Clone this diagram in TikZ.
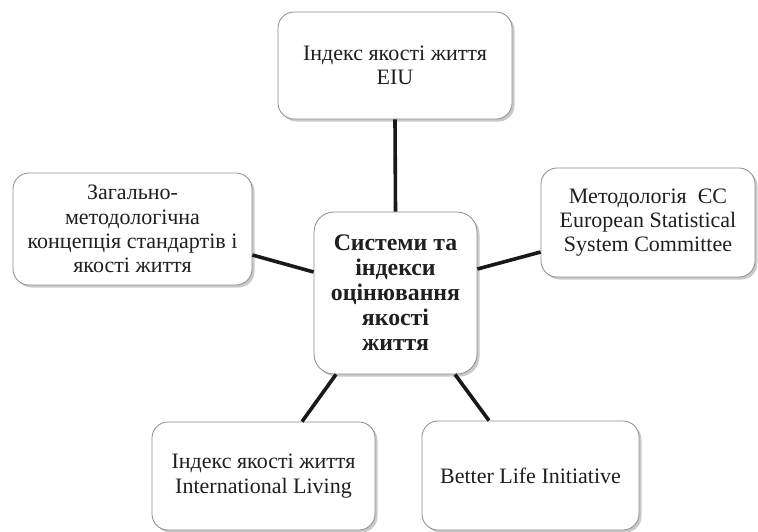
\documentclass[tikz,border=0pt]{standalone}
\usepackage{fontspec}
\setmainfont{Liberation Serif}
\usetikzlibrary{shadows,calc}
\tikzset{
  box/.style={draw=black!45, line width=0.8pt, fill=white, rounded corners=16pt,
    align=center, text=black!88, font=\fontsize{22}{24.3}\selectfont, inner sep=2pt,
    drop shadow={shadow xshift=2.5pt, shadow yshift=-2.5pt, opacity=0.35, fill=black!60}},
  hub/.style={box, rounded corners=20pt, font=\bfseries\fontsize{23.8}{25}\selectfont},
  link/.style={line width=3.6pt, black!90}
}
\begin{document}
\begin{tikzpicture}[x=1pt,y=-1pt]
\useasboundingbox (0,0) rectangle (758,531);
\node[box, minimum width=234pt, minimum height=107pt] (t) at (395,65.5)
  {Індекс якості життя\\EIU};
\node[box, minimum width=239pt, minimum height=112pt] (l) at (132.5,229)
  {Загально-\\методологічна\\концепція стандартів і\\якості життя};
\node[box, minimum width=214pt, minimum height=109pt] (r) at (648,222.5)
  {Методологія\ \ ЄС\\European Statistical\\System Committee};
\node[box, minimum width=223pt, minimum height=108pt] (bl) at (263.5,476)
  {Індекс якості життя\\International Living};
\node[box, minimum width=217pt, minimum height=109pt] (br) at (530.5,475.5)
  {Better Life Initiative};
\node[hub, minimum width=163pt, minimum height=162pt] (c) at (395.5,293)
  {Системи та\\індекси\\оцінювання\\якості\\життя};
\draw[link] (t.south) -- (c.north);
\draw[link] ($(l.east)+(0,26)$) -- ($(c.west)+(0,-21)$);
\draw[link] ($(c.east)+(0,-24)$) -- ($(r.west)+(0,29.5)$);
\draw[link] ($(c.south)+(-59.5,0)$) -- ($(bl.north)+(38.5,0)$);
\draw[link] ($(c.south)+(59.5,0)$) -- ($(br.north)+(-41.5,0)$);
\end{tikzpicture}
\end{document}
